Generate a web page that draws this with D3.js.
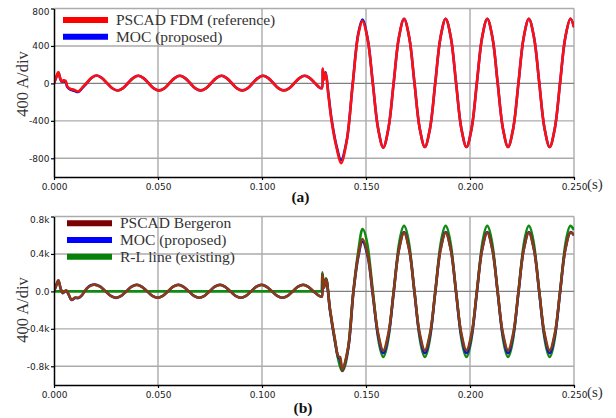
<!DOCTYPE html>
<html>
<head>
<meta charset="utf-8">
<script src="https://cdn.jsdelivr.net/npm/d3@7"></script>
<style>
  html, body { margin: 0; padding: 0; background: #fff; }
  svg { display: block; }
</style>
</head>
<body>
<svg id="chart" width="616" height="418"></svg>
<script>
// ---------- axis ticks ----------
const xTicks = [0, 0.05, 0.10, 0.15, 0.20, 0.25];
const xTickLabels = ["0.000", "0.050", "0.100", "0.150", "0.200", "0.250"];
const yTicks = [800, 400, 0, -400, -800];
const yTickLabelsA = ["800", "400", "0", "-400", "-800"];
const yTickLabelsB = ["0.8k", "0.4k", "0.0", "-0.4k", "-0.8k"];

// ---------- panel (a): sample times [s] ----------
const timeA = [
  0.0000, 0.0010, 0.0021, 0.0030, 0.0037, 0.0045, 0.0056, 0.0064, 0.0080, 0.0096, 0.0117, 0.0138, 0.0157, 0.0180,
  0.0205, 0.0230, 0.0255, 0.0280, 0.0305, 0.0330, 0.0355, 0.0380,
  0.0405, 0.0430, 0.0455, 0.0480, 0.0505, 0.0530, 0.0555, 0.0580,
  0.0605, 0.0630, 0.0655, 0.0680, 0.0705, 0.0730, 0.0755, 0.0780,
  0.0805, 0.0830, 0.0855, 0.0880, 0.0905, 0.0930, 0.0955, 0.0980,
  0.1005, 0.1030, 0.1055, 0.1080, 0.1105, 0.1130, 0.1155, 0.1180,
  0.1205, 0.1230, 0.1255, 0.1270, 0.1287,
  0.1292, 0.1298, 0.1306, 0.1319, 0.1335, 0.1359, 0.1380, 0.1407, 0.1436, 0.1463,
  0.1483, 0.1508, 0.1533, 0.1558, 0.1583, 0.1608, 0.1633, 0.1658,
  0.1683, 0.1708, 0.1733, 0.1758, 0.1783, 0.1808, 0.1833, 0.1858,
  0.1883, 0.1908, 0.1933, 0.1958, 0.1983, 0.2008, 0.2033, 0.2058,
  0.2083, 0.2108, 0.2133, 0.2158, 0.2183, 0.2208, 0.2233, 0.2258,
  0.2283, 0.2308, 0.2333, 0.2358, 0.2383, 0.2408, 0.2433, 0.2458,
  0.2483, 0.2500
];

// PSCAD FDM (reference) current [A]
const fdmRef = [
  0, 62, 118, 55, 21, 32, 26, -32, -60, -67, -86, -39, 4, 60,
  84, 58, 3, -52, -76, -53, 2, 57,
  81, 57, 2, -53, -75, -53, 2, 57,
  81, 57, 2, -53, -75, -53, 2, 57,
  81, 57, 2, -53, -75, -53, 2, 57,
  81, 57, 2, -53, -75, -53, 2, 57,
  81, 57, 2, -32, -52,
  158, 40, 111, -121, -407, -693, -853, -621, -14, 522,
  665, 470, -5, -480, -686, -478, 5, 488,
  690, 488, 5, -478, -680, -478, 5, 488,
  690, 488, 5, -478, -680, -478, 5, 488,
  690, 488, 5, -478, -680, -478, 5, 488,
  690, 488, 5, -478, -680, -478, 5, 488,
  690, 600
];

// MOC (proposed) current, panel (a) [A]
const mocA = [
  0, 60, 116, 50, 18, 22, 14, -40, -70, -78, -92, -45, 0, 58,
  84, 58, 3, -52, -76, -53, 2, 57,
  81, 57, 2, -53, -75, -53, 2, 57,
  81, 57, 2, -53, -75, -53, 2, 57,
  81, 57, 2, -53, -75, -53, 2, 57,
  81, 57, 2, -53, -75, -53, 2, 57,
  81, 57, 2, -32, -52,
  150, 45, 118, -105, -390, -675, -818, -612, -5, 535,
  683, 478, -2, -480, -686, -478, 5, 488,
  690, 488, 5, -478, -680, -478, 5, 488,
  690, 488, 5, -478, -680, -478, 5, 488,
  690, 488, 5, -478, -680, -478, 5, 488,
  690, 488, 5, -478, -680, -478, 5, 488,
  690, 600
];

// ---------- panel (b): sample times [s] ----------
const timeB = [
  0.0000, 0.0010, 0.0021, 0.0032, 0.0042, 0.0058, 0.0069, 0.0085, 0.0101, 0.0117, 0.0133, 0.0157, 0.0177,
  0.0198, 0.0223, 0.0248, 0.0273, 0.0298, 0.0323, 0.0348, 0.0373,
  0.0398, 0.0423, 0.0448, 0.0473, 0.0498, 0.0523, 0.0548, 0.0573,
  0.0598, 0.0623, 0.0648, 0.0673, 0.0698, 0.0723, 0.0748, 0.0773,
  0.0798, 0.0823, 0.0848, 0.0873, 0.0898, 0.0923, 0.0948, 0.0973,
  0.0998, 0.1023, 0.1048, 0.1073, 0.1098, 0.1123, 0.1148, 0.1173,
  0.1198, 0.1223, 0.1248, 0.1273, 0.1287,
  0.1290, 0.1298, 0.1308, 0.1327, 0.1351, 0.1367, 0.1375, 0.1386, 0.1415, 0.1439, 0.1463,
  0.1483, 0.1508, 0.1533, 0.1558, 0.1583, 0.1608, 0.1633, 0.1658,
  0.1683, 0.1708, 0.1733, 0.1758, 0.1783, 0.1808, 0.1833, 0.1858,
  0.1883, 0.1908, 0.1933, 0.1958, 0.1983, 0.2008, 0.2033, 0.2058,
  0.2083, 0.2108, 0.2133, 0.2158, 0.2183, 0.2208, 0.2233, 0.2258,
  0.2283, 0.2308, 0.2333, 0.2358, 0.2383, 0.2408, 0.2433, 0.2458,
  0.2483, 0.2500
];

// PSCAD Bergeron current [A]
const bergeron = [
  0, 60, 119, 30, -18, 11, -25, -90, -65, -68, -43, 29, 62,
  70, 49, 0, -48, -68, -48, 1, 50,
  70, 49, 0, -48, -68, -48, 1, 50,
  70, 49, 0, -48, -68, -48, 1, 50,
  70, 49, 0, -48, -68, -48, 1, 50,
  70, 49, 0, -48, -68, -48, 1, 50,
  70, 49, 0, -45, -56,
  185, 43, 133, -191, -516, -695, -700, -840, -587, -11, 386,
  559, 395, -30, -445, -632, -445, -2, 440,
  628, 442, -2, -445, -630, -445, -2, 442,
  628, 442, -2, -445, -630, -445, -2, 442,
  628, 442, -2, -445, -630, -445, -2, 442,
  628, 442, -2, -445, -630, -445, -2, 442,
  628, 600
];

// MOC (proposed) current, panel (b) [A]
const mocB = [
  0, 58, 116, 28, -20, 8, -28, -92, -70, -72, -45, 30, 66,
  72, 50, 0, -48, -69, -49, 1, 51,
  71, 49, 0, -48, -68, -48, 1, 50,
  71, 49, 0, -48, -68, -48, 1, 50,
  71, 49, 0, -48, -68, -48, 1, 50,
  71, 49, 0, -48, -68, -48, 1, 50,
  71, 49, 0, -45, -56,
  180, 40, 128, -200, -530, -705, -720, -845, -600, -20, 370,
  533, 375, -45, -465, -660, -467, -13, 444,
  633, 444, -13, -467, -660, -467, -13, 444,
  633, 444, -13, -467, -660, -467, -13, 444,
  633, 444, -13, -467, -660, -467, -13, 444,
  633, 444, -13, -467, -660, -467, -13, 444,
  633, 600
];

// R-L line (existing): no current until the fault
const timeRL = [
  0.0000, 0.1287,
  0.1290, 0.1298, 0.1308, 0.1327, 0.1351, 0.1367, 0.1375, 0.1386, 0.1415, 0.1439, 0.1463,
  0.1483, 0.1508, 0.1533, 0.1558, 0.1583, 0.1608, 0.1633, 0.1658,
  0.1683, 0.1708, 0.1733, 0.1758, 0.1783, 0.1808, 0.1833, 0.1858,
  0.1883, 0.1908, 0.1933, 0.1958, 0.1983, 0.2008, 0.2033, 0.2058,
  0.2083, 0.2108, 0.2133, 0.2158, 0.2183, 0.2208, 0.2233, 0.2258,
  0.2283, 0.2308, 0.2333, 0.2358, 0.2383, 0.2408, 0.2433, 0.2458,
  0.2483, 0.2500
];
const rlLine = [
  0, 0,
  205, 50, 140, -200, -540, -730, -800, -850, -600, -5, 430,
  667, 485, 0, -493, -700, -495, 0, 495,
  700, 495, 0, -495, -700, -495, 0, 495,
  700, 495, 0, -495, -700, -495, 0, 495,
  700, 495, 0, -495, -700, -495, 0, 495,
  700, 495, 0, -495, -700, -495, 0, 495,
  700, 655
];

// ---------- layout ----------
const svg = d3.select("#chart");
const X0 = 54, X1 = 574;
const serif = "'Liberation Serif', 'Times New Roman', serif";
const sans = "'DejaVu Sans', Verdana, sans-serif";

const smooth = d3.curveCatmullRom.alpha(0.5);
const flatThenSmooth = d3.curveMonotoneX;   // no overshoot after the long idle stretch

const panels = [
  {
    key: "a", top: 8.5, bottom: 177, yLabels: yTickLabelsA, titleY: 84, tag: "(a)", tagX: 300.5, tagY: 202,
    legendX: 63, legendY: 20, legendStep: 16.7,
    series: [
      { name: "MOC (proposed)", t: timeA, v: mocA, color: "#1414d2", key: "#0000ff", order: 1, curve: smooth },
      { name: "PSCAD FDM (reference)", t: timeA, v: fdmRef, color: "#ff1010", key: "#ff0000", order: 0, curve: smooth }
    ]
  },
  {
    key: "b", top: 216.5, bottom: 385, yLabels: yTickLabelsB, titleY: 310, tag: "(b)", tagX: 303, tagY: 413,
    legendX: 67, legendY: 223.3, legendStep: 16.7,
    series: [
      { name: "R-L line (existing)", t: timeRL, v: rlLine, color: "#108a10", key: "#078207", order: 2, curve: flatThenSmooth },
      { name: "MOC (proposed)", t: timeB, v: mocB, color: "#1414c8", key: "#0000ff", order: 1, curve: smooth },
      { name: "PSCAD Bergeron", t: timeB, v: bergeron, color: "#8c3c12", key: "#7d0000", order: 0, curve: smooth }
    ]
  }
];

panels.forEach(p => {
  const g = svg.append("g");
  const x = d3.scaleLinear().domain([0, 0.25]).range([X0, X1]);
  const y = d3.scaleLinear().domain([-1000, 800]).range([p.bottom, p.top]);

  // grid
  g.append("g").selectAll("line").data(xTicks.filter(d => d > 0)).join("line")
    .attr("x1", d => x(d)).attr("x2", d => x(d))
    .attr("y1", p.top).attr("y2", p.bottom)
    .attr("stroke", "#ababab").attr("stroke-width", 1.4);
  g.append("g").selectAll("line").data(yTicks).join("line")
    .attr("x1", X0).attr("x2", X1)
    .attr("y1", d => y(d)).attr("y2", d => y(d))
    .attr("stroke", d => d === 0 ? "#808080" : "#ababab").attr("stroke-width", 1.4);

  // traces
  const clipId = "clip-" + p.key;
  g.append("clipPath").attr("id", clipId).append("rect")
    .attr("x", X0).attr("y", p.top - 2).attr("width", X1 - X0).attr("height", p.bottom - p.top + 2);
  p.series.forEach(s => {
    const line = d3.line().x(d => x(d[0])).y(d => y(d[1])).curve(s.curve);
    const pts = s.t.map((t, i) => [t, s.v[i]]);
    g.append("path").datum(pts)
      .attr("clip-path", `url(#${clipId})`)
      .attr("d", line)
      .attr("fill", "none")
      .attr("stroke", s.color)
      .attr("stroke-width", 2.6)
      .attr("stroke-linejoin", "round");
  });

  // axes
  const yAxis = d3.axisLeft(y).tickValues(yTicks)
    .tickFormat((d, i) => p.yLabels[i]).tickSize(3).tickSizeOuter(0).tickPadding(1.5);
  const ya = g.append("g").attr("transform", `translate(${X0},0)`).call(yAxis);
  const xAxis = d3.axisBottom(x).tickValues(xTicks)
    .tickFormat((d, i) => xTickLabels[i]).tickSize(3).tickSizeOuter(0).tickPadding(4);
  const xa = g.append("g").attr("transform", `translate(0,${p.bottom})`).call(xAxis);
  [ya, xa].forEach(a => {
    a.select(".domain").attr("stroke", "#000").attr("stroke-width", 1.5);
    a.selectAll(".tick line").attr("stroke", "#000").attr("stroke-width", 1.2);
    a.selectAll(".tick text").attr("fill", "#222")
      .style("font-family", sans).style("font-size", "9px");
  });
  // keep the top label inside the view
  ya.selectAll(".tick text").attr("dy", d => (y(d) - p.top < 3 ? "0.62em" : "0.32em"));

  // vertical title
  g.append("text")
    .attr("transform", `translate(22,${p.titleY}) rotate(-90)`)
    .attr("text-anchor", "middle").attr("dominant-baseline", "central")
    .style("font-family", serif).style("font-size", "16.5px").attr("fill", "#333")
    .text("400 A/div");

  // time unit
  g.append("text").attr("x", 587).attr("y", p.bottom + 11.5)
    .style("font-family", serif).style("font-size", "15px").attr("fill", "#333")
    .text("(s)");

  // panel tag
  g.append("text").attr("x", p.tagX).attr("y", p.tagY).attr("text-anchor", "middle")
    .style("font-family", serif).style("font-size", "15.5px").style("font-weight", "bold")
    .attr("fill", "#111").text(p.tag);

  // legend
  const legendItems = p.series.slice().sort((a, b) => a.order - b.order);
  const lg = g.append("g");
  legendItems.forEach((s, i) => {
    const ly = p.legendY + i * p.legendStep;
    lg.append("line").attr("x1", p.legendX).attr("x2", p.legendX + 45)
      .attr("y1", ly).attr("y2", ly)
      .attr("stroke", s.key).attr("stroke-width", 6);
    lg.append("text").attr("x", p.legendX + 53).attr("y", ly + 5)
      .style("font-family", serif).style("font-size", "15.5px").attr("fill", "#333")
      .text(s.name);
  });
});
</script>
</body>
</html>
